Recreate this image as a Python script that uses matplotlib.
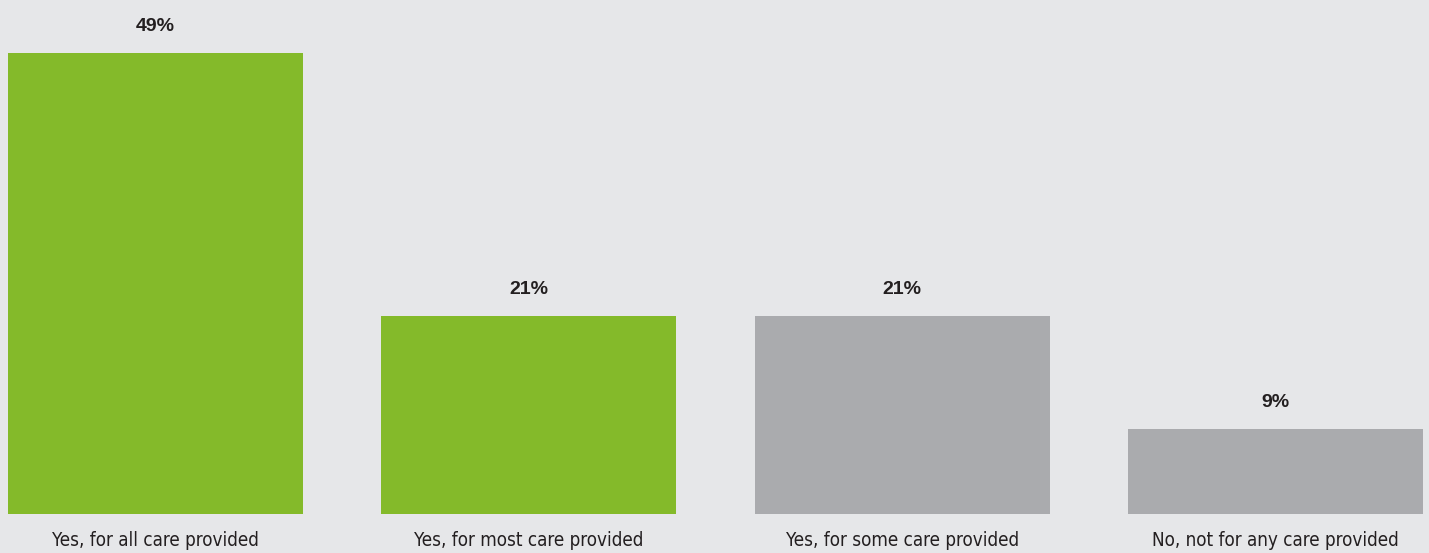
import matplotlib
matplotlib.use("Agg")
import matplotlib.pyplot as plt
import numpy as np

# Survey answers and shares (%)
categories = [
    "Yes, for all care provided",
    "Yes, for most care provided",
    "Yes, for some care provided",
    "No, not for any care provided",
]
shares = [49, 21, 21, 9]
bar_colors = ["#84BA2A", "#84BA2A", "#AAABAE", "#AAABAE"]

BG = "#E6E7E9"
TEXT = "#231F20"

fig = plt.figure(figsize=(14.29, 5.53), dpi=100, facecolor=BG)
ax = fig.add_axes([0, 39 / 553, 1, 1 - 39 / 553])
ax.set_facecolor(BG)

x = np.arange(len(categories))
ax.bar(x, shares, width=0.79, color=bar_colors, linewidth=0)

for xi, val in zip(x, shares):
    ax.text(xi, val + 1.9, f"{val}%", ha="center", va="bottom",
            fontsize=14, fontweight="bold", color=TEXT,
            family=["Liberation Sans", "DejaVu Sans"])

ax.set_xlim(-0.416, 3.411)
ax.set_ylim(0, 54.6)
ax.set_xticks(x)
ax.set_xticklabels(categories, fontsize=13.5, color=TEXT,
                   family=["DejaVu Sans"], fontstretch="condensed")
ax.tick_params(axis="x", length=0, pad=12)
ax.set_yticks([])
for spine in ax.spines.values():
    spine.set_visible(False)

fig.savefig("out.png", dpi=100, facecolor=BG)
